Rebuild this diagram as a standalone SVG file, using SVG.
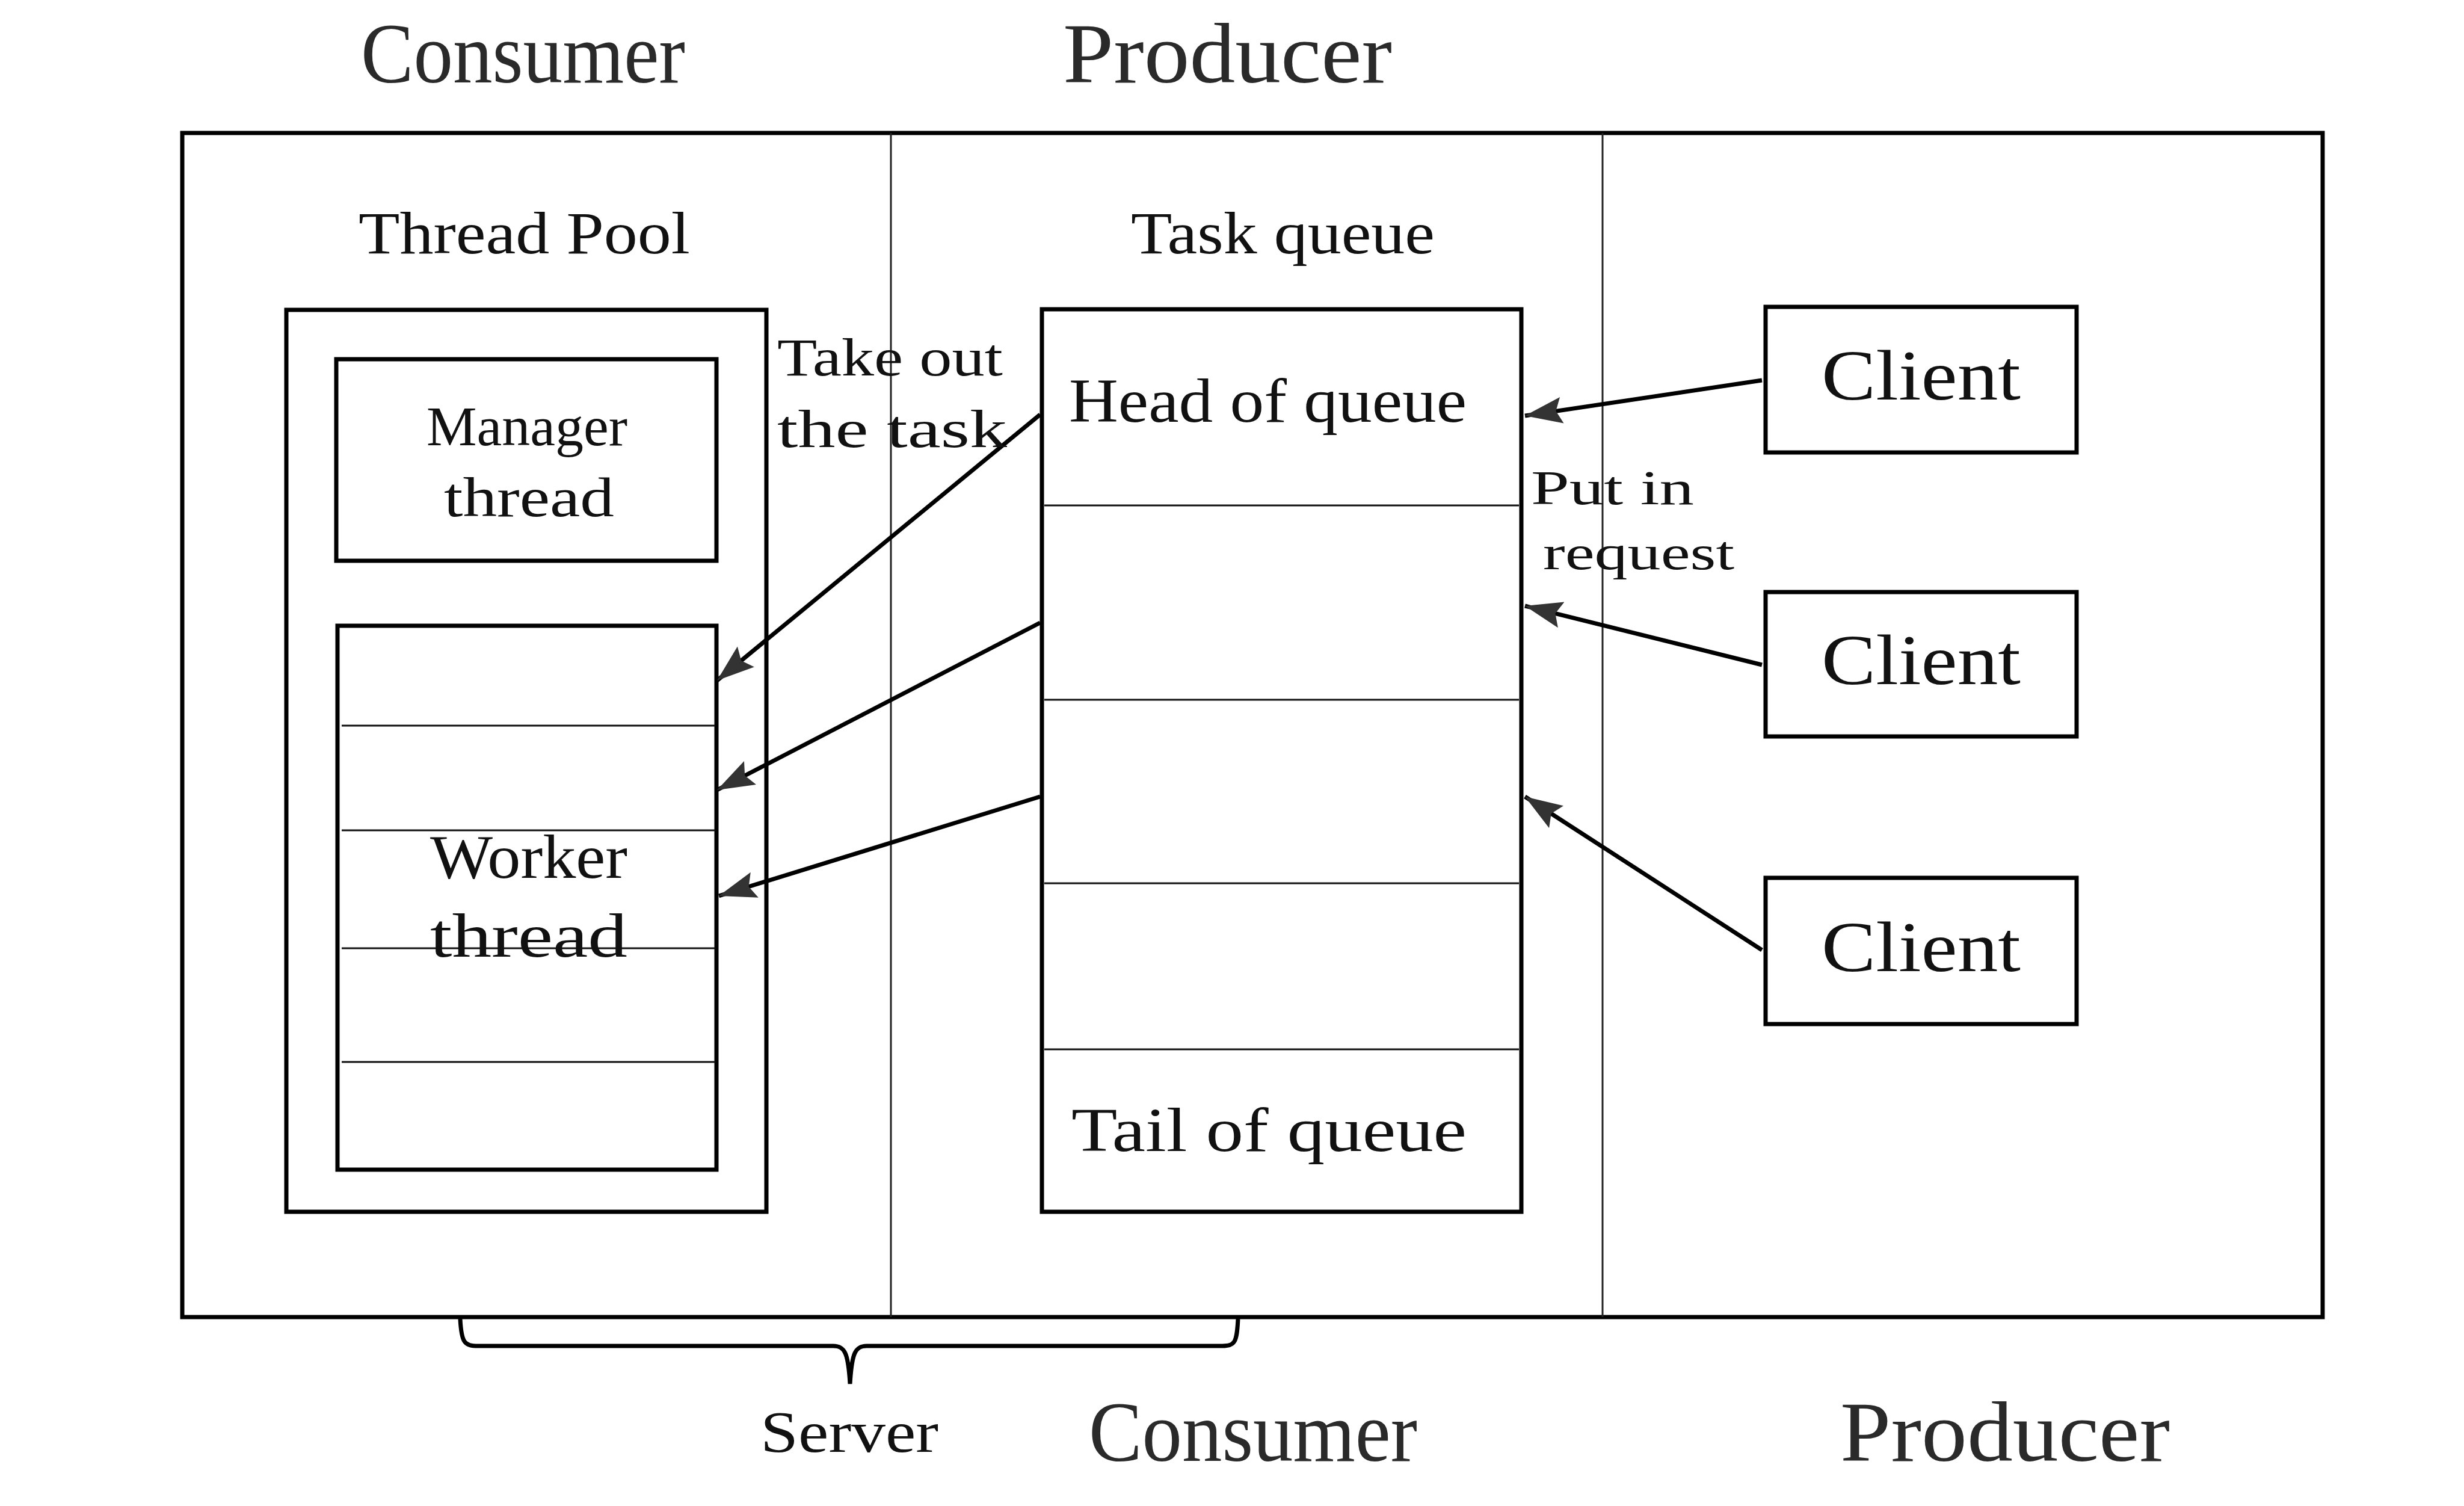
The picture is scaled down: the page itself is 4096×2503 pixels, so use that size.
<svg xmlns="http://www.w3.org/2000/svg" width="4096" height="2503" viewBox="0 0 4096 2503">
<style>
text { font-family: "Liberation Serif", "DejaVu Serif", serif; fill: #111; }
.big { font-size: 142px; fill: #2a2a2a; }
.box { fill: none; stroke: #000; stroke-width: 7; }
.row { stroke: #111; stroke-width: 3; }
.div { stroke: #222; stroke-width: 3; }
.conn { stroke: #000; stroke-width: 7; fill: none; }
</style>
<defs>
<marker id="arr" markerUnits="userSpaceOnUse" markerWidth="70" markerHeight="50" refX="62" refY="22" orient="auto">
<path d="M0,0 L62,22 L0,44 L10,22 z" fill="#333"/>
</marker>
</defs>
<rect width="4096" height="2503" fill="#fff"/>

<g id="section-labels">
<text class="big" x="600" y="137" textLength="539" lengthAdjust="spacingAndGlyphs">Consumer</text>
<text class="big" x="1767" y="137" textLength="547" lengthAdjust="spacingAndGlyphs">Producer</text>
<text class="big" x="1810" y="2428" textLength="546" lengthAdjust="spacingAndGlyphs">Consumer</text>
<text class="big" x="3059" y="2428" textLength="548" lengthAdjust="spacingAndGlyphs">Producer</text>
</g>

<g id="outer-frame">
<rect class="box" x="303" y="221" width="3558" height="1968"/>
<line class="div" x1="1481" y1="221" x2="1481" y2="2189"/>
<line class="div" x1="2664" y1="221" x2="2664" y2="2189"/>
</g>

<g id="thread-pool">
<text x="596" y="421" font-size="100" textLength="551" lengthAdjust="spacingAndGlyphs">Thread Pool</text>
<rect class="box" x="476" y="515" width="798" height="1499"/>
</g>

<g id="manager-thread">
<rect class="box" x="559" y="597" width="632" height="335"/>
<text x="709" y="740" font-size="94" textLength="334" lengthAdjust="spacingAndGlyphs">Manager</text>
<text x="738" y="858" font-size="94" textLength="283" lengthAdjust="spacingAndGlyphs">thread</text>
</g>

<g id="worker-thread">
<rect class="box" x="561" y="1040" width="630" height="904"/>
<line class="row" x1="568" y1="1206" x2="1189" y2="1206"/>
<line class="row" x1="568" y1="1380" x2="1189" y2="1380"/>
<line class="row" x1="568" y1="1576" x2="1189" y2="1576"/>
<line class="row" x1="568" y1="1765" x2="1189" y2="1765"/>
<text x="715" y="1459" font-size="104" textLength="328" lengthAdjust="spacingAndGlyphs">Worker</text>
<text x="715" y="1590" font-size="104" textLength="328" lengthAdjust="spacingAndGlyphs">thread</text>
</g>

<g id="task-queue">
<text x="1880" y="421" font-size="100" textLength="505" lengthAdjust="spacingAndGlyphs">Task queue</text>
<rect class="box" x="1732" y="514" width="797" height="1500"/>
<line class="row" x1="1736" y1="840" x2="2525" y2="840"/>
<line class="row" x1="1736" y1="1163" x2="2525" y2="1163"/>
<line class="row" x1="1736" y1="1468" x2="2525" y2="1468"/>
<line class="row" x1="1736" y1="1744" x2="2525" y2="1744"/>
<text x="1777" y="701" font-size="104" textLength="661" lengthAdjust="spacingAndGlyphs">Head of queue</text>
<text x="1781" y="1913" font-size="104" textLength="657" lengthAdjust="spacingAndGlyphs">Tail of queue</text>
</g>

<g id="client-1">
<rect class="box" x="2935" y="510" width="517" height="242"/>
<text x="3028" y="664" font-size="118" textLength="331" lengthAdjust="spacingAndGlyphs">Client</text>
</g>
<g id="client-2">
<rect class="box" x="2935" y="984" width="517" height="240"/>
<text x="3028" y="1137" font-size="118" textLength="331" lengthAdjust="spacingAndGlyphs">Client</text>
</g>
<g id="client-3">
<rect class="box" x="2935" y="1459" width="517" height="243"/>
<text x="3028" y="1614" font-size="118" textLength="331" lengthAdjust="spacingAndGlyphs">Client</text>
</g>

<g id="connectors">
<line class="conn" x1="1729" y1="689" x2="1192" y2="1131" marker-end="url(#arr)"/>
<line class="conn" x1="1729" y1="1035" x2="1192" y2="1313" marker-end="url(#arr)"/>
<line class="conn" x1="1729" y1="1324" x2="1195" y2="1489" marker-end="url(#arr)"/>
<line class="conn" x1="2929" y1="632" x2="2535" y2="691" marker-end="url(#arr)"/>
<line class="conn" x1="2929" y1="1105" x2="2535" y2="1007" marker-end="url(#arr)"/>
<line class="conn" x1="2929" y1="1579" x2="2535" y2="1324" marker-end="url(#arr)"/>
</g>

<g id="connector-labels">
<text x="1292" y="624" font-size="88" textLength="375" lengthAdjust="spacingAndGlyphs">Take out</text>
<text x="1292" y="743" font-size="88" textLength="382" lengthAdjust="spacingAndGlyphs">the task</text>
<text x="2545" y="838" font-size="80" textLength="271" lengthAdjust="spacingAndGlyphs">Put in</text>
<text x="2565" y="946" font-size="80" textLength="318" lengthAdjust="spacingAndGlyphs">request</text>
</g>

<g id="server-brace">
<path d="M765,2192 C767,2232 772,2237 795,2237 L1385,2237 C1405,2237 1410,2250 1413,2300 C1416,2250 1421,2237 1441,2237 L2030,2237 C2053,2237 2056,2232 2058,2192" fill="none" stroke="#000" stroke-width="7"/>
<text x="1264" y="2413" font-size="98" textLength="296" lengthAdjust="spacingAndGlyphs">Server</text>
</g>
</svg>
